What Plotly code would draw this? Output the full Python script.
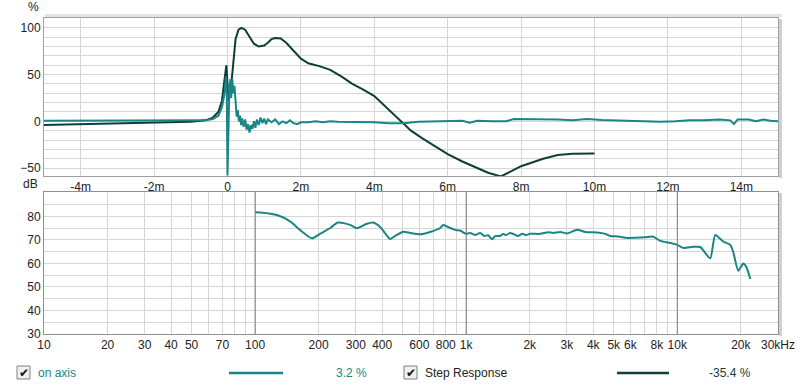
import plotly.graph_objects as go

W, H = 800, 387

# ---------------- data ----------------
# Impulse response "on axis" (%), time in ms
imp_t = [-5, -4, -3, -2, -1, -0.6, -0.4, -0.25, -0.15, -0.08, -0.04, -0.02, 0.0, 0.02,
         0.05, 0.08, 0.1, 0.13, 0.16, 0.19, 0.22, 0.25, 0.28, 0.31, 0.34, 0.37, 0.4, 0.44,
         0.48, 0.52, 0.56, 0.6, 0.64, 0.68, 0.72, 0.76, 0.8, 0.85, 0.9, 0.95, 1.0, 1.05,
         1.1, 1.2, 1.3, 1.4, 1.5, 1.6, 1.7, 1.8, 1.9, 2.0, 2.2, 2.4, 2.6, 2.8, 3.0, 3.3,
         3.6, 4.0, 4.4, 4.8, 5.2, 5.6, 6.0, 6.4, 6.6, 6.8, 7.2, 7.6, 7.8, 8.2, 8.6, 9.0,
         9.4, 9.8, 10.2, 10.6, 11.0, 11.4, 11.8, 12.2, 12.6, 13.0, 13.4, 13.7, 13.8, 13.9,
         14.2, 14.4, 14.6, 14.8, 15.0]
imp_v = [0.5, 0.5, 0.5, 0.5, 0.7, 1, 2.5, 6, 15, 30, 48, 30, -58, -20,
         35, 45, 25, 45, 30, 38, 15, 5, 12, 0, 6, -4, 3, -6,
         2, -9, -3, -12, -4, -8, 0, -7, 2, -4, 4, -2, 3, -3,
         2, -1, 2, -3, 0, -2, 1, -2, -3, -1, -1, 0, -1, 0, -0.5, -0.5,
         -1, -1, -2, -2, -0.5, 0, 0, 0.5, -1.5, 0.5, 0, 0, 2.5, 2.5, 2, 2,
         1, 2.5, 1.5, 1, 1, 0, -0.5, 0, 1, 1, 2, 1, -3, 2,
         2, 0, 2, 0.5, 0]

# Step response (%), time in ms
step_t = [-5, -4, -3, -2, -1.5, -1, -0.6, -0.4, -0.25, -0.15, -0.08, -0.03, 0.0, 0.03,
          0.08, 0.15, 0.22, 0.3, 0.38, 0.48, 0.6, 0.72, 0.85, 1.0, 1.1, 1.2, 1.3, 1.45,
          1.6, 1.8, 2.0, 2.2, 2.5, 2.8, 3.1, 3.4, 3.7, 4.0, 4.3, 4.6, 4.8, 5.0, 5.3, 5.6,
          6.0, 6.4, 6.8, 7.1, 7.45, 7.7, 8.0, 8.3, 8.6, 9.0, 9.4, 10.0]
step_v = [-4, -3.3, -2.5, -1.8, -1.2, -0.5, 1, 4, 10, 22, 45, 60, 40, 22,
          30, 60, 88, 98, 100, 98, 90, 83, 80, 81, 84, 88, 89, 88.5,
          84, 75, 67, 62, 59, 55, 48, 40, 34, 27, 16, 5, -3, -10, -18, -25,
          -35, -43, -50, -55, -59, -54, -48, -44, -40, -36, -34.7, -34.3]

# Frequency response (dB), frequency in Hz
fr_f = [100, 106, 127, 147, 163, 186, 203, 227, 247, 282, 304, 336, 362, 391, 422, 436,
        461, 503, 543, 605, 675, 753, 778, 840, 887, 937, 1000, 1045, 1104, 1165, 1217,
        1271, 1327, 1371, 1448, 1496, 1547, 1617, 1688, 1763, 1841, 1923, 2009, 2242,
        2447, 2585, 2789, 3011, 3357, 3664, 4178, 4558, 4813, 5254, 5672, 6324, 7053,
        7697, 8305, 9258, 10000, 10678, 11901, 12840, 14323, 15136, 16519, 17817, 18408,
        19453, 20550, 21240, 22182]
fr_db = [81.8, 81.7, 80.6, 77.8, 74.3, 70.7, 72.6, 75.1, 77.4, 76.4, 75.0, 76.8, 77.4,
         75.5, 71.7, 70.4, 71.7, 73.5, 73.0, 72.4, 73.4, 75.1, 76.4, 75.1, 74.3, 74.0,
         72.6, 73.0, 72.1, 73.0, 71.7, 72.0, 70.3, 71.6, 71.7, 72.5, 72.1, 73.0, 72.4,
         71.7, 72.6, 72.1, 72.6, 72.6, 73.3, 73.0, 73.4, 72.8, 74.3, 73.4, 73.2, 72.6,
         71.7, 71.5, 70.9, 70.9, 71.1, 71.4, 69.6, 68.7, 67.9, 66.6, 67.1, 67.0, 62.2,
         72.1, 69.3, 67.9, 64.9, 56.9, 60.0, 58.5, 53.4]

top_xticks = [-4, -2, 0, 2, 4, 6, 8, 10, 12, 14]
top_xtext = ["-4m", "-2m", "0", "2m", "4m", "6m", "8m", "10m", "12m", "14m"]
top_yticks = [-50, 0, 50, 100]

fr_ticks = [10, 20, 30, 40, 50, 70, 100, 200, 300, 400, 600, 800, 1000, 2000, 3000,
            4000, 5000, 6000, 8000, 10000, 20000, 30000]
fr_text = ["10", "20", "30", "40", "50", "70", "100", "200", "300", "400", "600", "800",
           "1k", "2k", "3k", "4k", "5k", "6k", "8k", "10k", "20k", "30kHz"]
fr_minor = [60, 80, 90, 500, 700, 900, 7000, 9000]
fr_decades = [100, 1000, 10000]
db_ticks = [30, 40, 50, 60, 70, 80]

TEAL = "#1a8584"
DARK = "#0f3d3a"
GRID = "#d6d6d6"
FONT = "Liberation Sans"

# ---------------- geometry (pixels) ----------------
L, R = 44, 778
T1, B1 = 18, 176
T2, B2 = 192, 334

def px(x):
    return x / W

def py(y):
    return 1 - y / H

fig = go.Figure()

fig.add_trace(go.Scatter(x=step_t, y=step_v, mode="lines", line=dict(color=DARK, width=2),
                         xaxis="x", yaxis="y", hoverinfo="skip"))
fig.add_trace(go.Scatter(x=imp_t, y=imp_v, mode="lines", line=dict(color=TEAL, width=2),
                         xaxis="x", yaxis="y", hoverinfo="skip"))
fig.add_trace(go.Scatter(x=fr_f, y=fr_db, mode="lines",
                         line=dict(color=TEAL, width=2, shape="spline", smoothing=0.6),
                         xaxis="x2", yaxis="y2", hoverinfo="skip"))

axfont = dict(family=FONT, size=12, color="#222222")

fig.update_layout(
    template="none",
    width=W, height=H, margin=dict(l=0, r=0, t=0, b=0, autoexpand=False),
    paper_bgcolor="white", plot_bgcolor="white", showlegend=False,
    font=axfont,
    xaxis=dict(domain=[px(L), px(R)], range=[-5, 15], tickvals=top_xticks,
               ticktext=top_xtext, showgrid=True, gridcolor=GRID, zeroline=False,
               showline=True, mirror=True, linecolor="#a0a0a0", ticks="",
               tickfont=axfont, anchor="y", fixedrange=True, automargin=False),
    yaxis=dict(domain=[py(B1), py(T1)], range=[-58.5, 110.5], tickvals=top_yticks,
               showgrid=True, gridcolor=GRID, zeroline=False,
               minor=dict(dtick=10, tick0=0, showgrid=True, gridcolor=GRID, ticks=""),
               showline=True, mirror=True, linecolor="#a0a0a0", ticks="",
               tickfont=axfont, anchor="x", fixedrange=True, automargin=False),
    xaxis2=dict(domain=[px(L), px(R)], type="log", range=[1, 4.4771],
                tickvals=fr_ticks, ticktext=fr_text, showgrid=True, gridcolor=GRID,
                minor=dict(tickvals=fr_minor, showgrid=True, gridcolor=GRID, ticks=""),
                zeroline=False, showline=True, mirror=True, linecolor="#909090",
                ticks="", tickfont=axfont, anchor="y2", fixedrange=True, automargin=False),
    yaxis2=dict(domain=[py(B2), py(T2)], range=[30, 90.4], tickvals=db_ticks,
                showgrid=True, gridcolor=GRID, zeroline=False,
                minor=dict(dtick=5, tick0=0, showgrid=True, gridcolor=GRID, ticks=""),
                showline=True, mirror=True, linecolor="#909090", ticks="",
                tickfont=axfont, anchor="x2", fixedrange=True, automargin=False),
)

shapes = []
# darker decade lines in the frequency plot
for f in fr_decades:
    shapes.append(dict(type="line", xref="x2", yref="paper", x0=f, x1=f,
                       y0=py(B2), y1=py(T2),
                       line=dict(color="#7a7a7a", width=1), layer="above"))
# right shadow edges
for (t, b) in [(T1, B1), (T2, B2)]:
    shapes.append(dict(type="rect", xref="paper", yref="paper",
                       x0=px(R + 1), x1=px(R + 4), y0=py(b + 2), y1=py(t + 1),
                       line=dict(width=0), fillcolor="#d0d0d0", layer="below"))
shapes.append(dict(type="rect", xref="paper", yref="paper",
                   x0=px(L + 1), x1=px(R + 4), y0=py(T1 - 1), y1=py(T1 - 4),
                   line=dict(width=0), fillcolor="#e4e4e4", layer="below"))

# legend: checkboxes
for cx in [17, 404]:
    shapes.append(dict(type="rect", xref="paper", yref="paper",
                       x0=px(cx), x1=px(cx + 13), y0=py(379), y1=py(366),
                       line=dict(color="#808080", width=1), fillcolor="#f0f0f0"))
# legend lines
shapes.append(dict(type="line", xref="paper", yref="paper", x0=px(229), x1=px(283),
                   y0=py(373), y1=py(373), line=dict(color=TEAL, width=2.5)))
shapes.append(dict(type="line", xref="paper", yref="paper", x0=px(617), x1=px(669),
                   y0=py(373), y1=py(373), line=dict(color=DARK, width=2.5)))
fig.update_layout(shapes=shapes)

ann = []
def text(x, y, s, color="#222222", size=12, xanchor="left"):
    ann.append(dict(xref="paper", yref="paper", x=px(x), y=py(y), text=s,
                    showarrow=False, xanchor=xanchor, yanchor="middle",
                    font=dict(family=FONT, size=size, color=color)))

text(33, 7, "%", xanchor="center")
text(30, 184, "dB", xanchor="center")
text(23.5, 372.5, "✔", color="#111111", size=12, xanchor="center")
text(410.5, 372.5, "✔", color="#111111", size=12, xanchor="center")
text(36, 373, "on axis", color=TEAL)
text(351, 373, "3.2 %", color=TEAL, xanchor="center")
text(423, 373, "Step Response", color="#222222")
text(730, 373, "-35.4 %", color="#1a3a3a", xanchor="center")
fig.update_layout(annotations=ann)

fig.write_html("out.html", config={"displayModeBar": False, "responsive": False},
               post_script="document.documentElement.style.margin='0px';"
                           "document.body.style.margin='0px';"
                           "document.body.style.padding='0px';")
